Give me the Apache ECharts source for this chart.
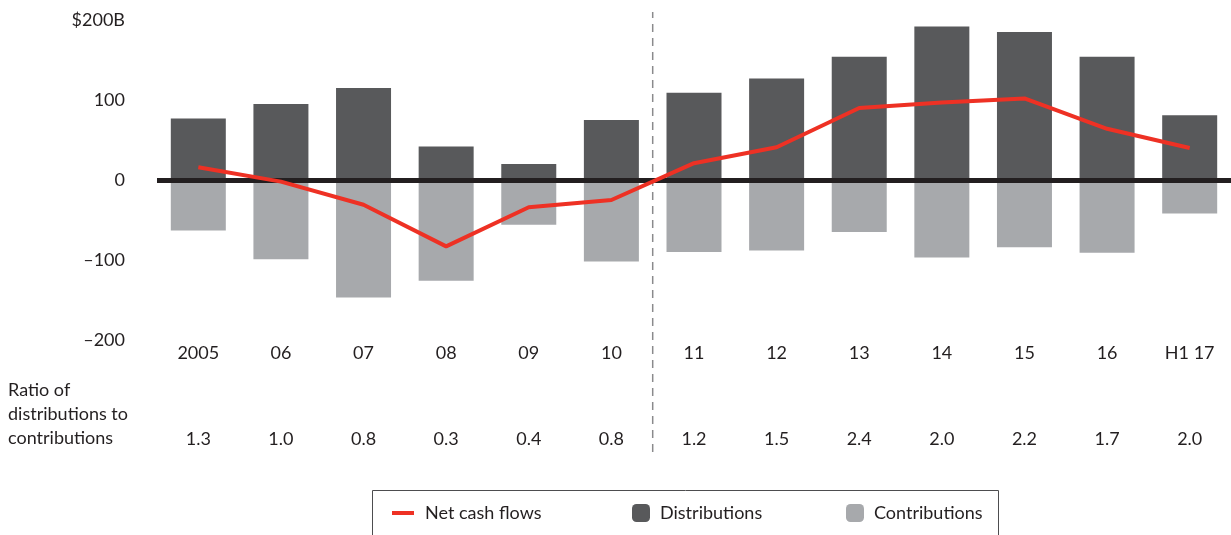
<!DOCTYPE html>
<html>
<head>
<meta charset="utf-8">
<script src="https://cdn.jsdelivr.net/npm/echarts@6/dist/echarts.min.js"></script>
<style>
  html, body { margin: 0; padding: 0; background: #fff; }
  #chart { width: 1231px; height: 535px; }
</style>
</head>
<body>
<div id="chart"></div>
<script>
const years = ['2005', '06', '07', '08', '09', '10', '11', '12', '13', '14', '15', '16', 'H1 17']
const distributions = [77, 95, 115, 42, 20, 75, 109, 127, 154, 192, 185, 154, 81]
const contributions = [-63, -99, -147, -126, -56, -102, -90, -88, -65, -97, -84, -91, -42]
const netCashFlows = [16, -2, -31, -83, -34, -25, 21, 41, 90, 97, 102, 64, 40]
const ratios = ['1.3', '1.0', '0.8', '0.3', '0.4', '0.8', '1.2', '1.5', '2.4', '2.0', '2.2', '1.7', '2.0']
const dividerAt = 5.5

const font = 'Lato'
const ink = '#231f20'

const chart = echarts.init(document.getElementById('chart'))

chart.setOption({
  animation: false,
  textStyle: { fontFamily: font },
  grid: [
    { left: 157, width: 1076, top: 20, height: 320 },
    { left: 157, width: 1076, top: 12, height: 440 }
  ],
  legend: [
    {
      data: [{ name: 'Net cash flows', icon: 'rect' }], left: 392, top: 504,
      itemWidth: 22, itemHeight: 4, padding: 0,
      textStyle: { fontSize: 18, color: ink, fontFamily: font, padding: [0, 0, 0, 6] }
    },
    {
      data: ['Distributions'], left: 632, top: 504,
      itemWidth: 18, itemHeight: 18, padding: 0,
      textStyle: { fontSize: 18, color: ink, fontFamily: font, padding: [0, 0, 0, 5] }
    },
    {
      data: ['Contributions'], left: 846, top: 504,
      itemWidth: 18, itemHeight: 18, padding: 0,
      textStyle: { fontSize: 18, color: ink, fontFamily: font, padding: [0, 0, 0, 5] }
    }
  ],
  graphic: [
    {
      type: 'rect', left: 370, top: 488,
      shape: { width: 626, height: 60 },
      style: { fill: 'none', stroke: '#4d4d4f', lineWidth: 1 }
    },
    {
      type: 'text', left: 8, top: 378,
      style: {
        text: 'Ratio of\ndistributions to\ncontributions',
        font: '18px ' + font, fill: ink, lineHeight: 24
      }
    }
  ],
  xAxis: [
    {
      type: 'category', gridIndex: 0, data: years,
      axisLine: { show: false }, axisTick: { show: false },
      axisLabel: { fontSize: 18, color: ink, margin: 4 }
    },
    {
      type: 'category', gridIndex: 0, data: ratios, position: 'bottom', offset: 86,
      axisLine: { show: false }, axisTick: { show: false },
      axisLabel: { fontSize: 18, color: ink, margin: 4 }
    },
    {
      type: 'value', gridIndex: 1, min: -0.5, max: 12.5, show: false
    }
  ],
  yAxis: [
    {
      type: 'value', gridIndex: 0, min: -200, max: 200, interval: 100,
      axisLine: { show: false }, axisTick: { show: false }, splitLine: { show: false },
      axisLabel: {
        fontSize: 18, color: ink, margin: 32,
        formatter: v => v === 200 ? '$200B' : (v < 0 ? '–' + Math.abs(v) : String(v))
      }
    },
    { type: 'value', gridIndex: 1, min: 0, max: 1, show: false }
  ],
  series: [
    {
      name: 'Distributions', type: 'bar', stack: 'flows', barWidth: 55,
      xAxisIndex: 0, yAxisIndex: 0,
      itemStyle: { color: '#58595b' },
      data: distributions,
      markLine: {
        silent: true, symbol: 'none', label: { show: false },
        lineStyle: { color: ink, width: 5, type: 'solid' },
        data: [{ yAxis: 0 }]
      }
    },
    {
      name: 'Contributions', type: 'bar', stack: 'flows', barWidth: 55,
      xAxisIndex: 0, yAxisIndex: 0,
      itemStyle: { color: '#a7a9ac' },
      data: contributions
    },
    {
      name: 'divider', type: 'line', xAxisIndex: 2, yAxisIndex: 1,
      symbol: 'none', silent: true,
      lineStyle: { color: '#8a8a8c', width: 1.5, type: [8, 6] },
      data: [[dividerAt, 0], [dividerAt, 1]]
    },
    {
      name: 'Net cash flows', type: 'line', z: 5,
      xAxisIndex: 0, yAxisIndex: 0,
      symbol: 'none',
      lineStyle: { color: '#ee3124', width: 4 },
      itemStyle: { color: '#ee3124' },
      data: netCashFlows
    }
  ]
})
</script>
</body>
</html>
